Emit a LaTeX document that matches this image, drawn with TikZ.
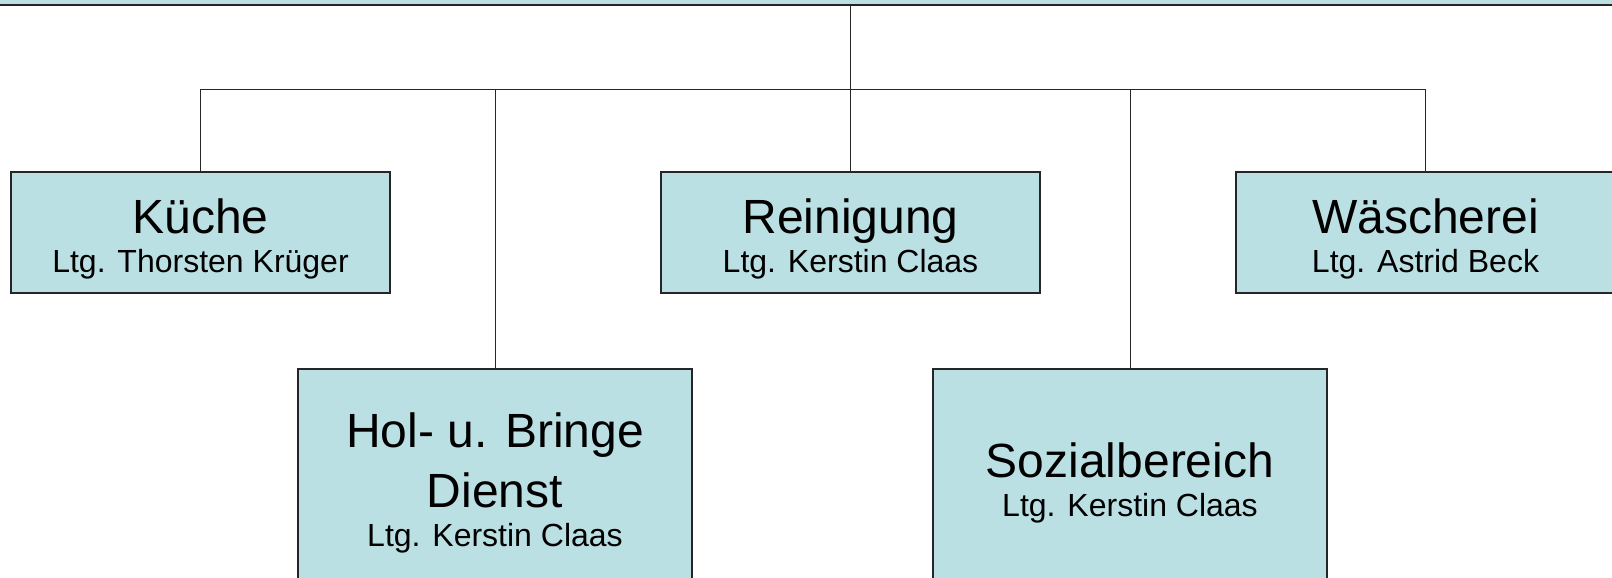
\documentclass[tikz,border=0pt]{standalone}
\usepackage{fontspec}
\setmainfont{Liberation Sans}
\usetikzlibrary{positioning}
\definecolor{orgfill}{RGB}{187,224,227}
\newcommand{\ttl}{\fontsize{24}{29}\selectfont}
\newcommand{\toprow}{\rule{0pt}{23.5pt}}

\begin{document}
\begin{tikzpicture}[x=0.5pt,y=-0.5pt,
      unit/.style={
         rectangle,
         draw=black!85,
         line width=0.75pt,
         fill=orgfill,
         align=center,
         inner sep=0pt,
         minimum width=189.5pt,
         minimum height=60.5pt,
         font=\fontsize{16}{19.5}\selectfont
      },
      big unit/.style={
         unit,
         minimum width=197pt,
         minimum height=114pt
      },
      link/.style={draw=black!85, line width=0.5pt}
    ]
    \useasboundingbox (0,0) rectangle (1612,578);
    % Leitung (oben angeschnitten)
    \node (leitung) [unit, line width=1pt, minimum width=1800pt, minimum height=40pt, anchor=south] at (850,5.5) {};
    % erste Reihe
    \node (kueche) [unit] at (200.5,232.5) {{\ttl\toprow K\"uche}\\Ltg. Thorsten Kr\"uger};
    \node (reinigung) [unit] at (850.5,232.5) {{\ttl\toprow Reinigung}\\Ltg. Kerstin Claas};
    \node (waescherei) [unit] at (1425.5,232.5) {{\ttl\toprow W\"ascherei}\\Ltg. Astrid Beck};
    % zweite Reihe
    \node (holbring) [big unit] at (495,483) {{\ttl Hol- u. Bringe}\\[6.5pt]{\ttl Dienst}\\Ltg. Kerstin Claas};
    \node (sozial) [big unit] at (1130,483) {{\ttl Sozialbereich}\\Ltg. Kerstin Claas};
    % Verbindungen
    \coordinate (bus) at (850,89);
    \draw [link] (leitung.south) -- (bus);
    \draw [link] (bus -| kueche.north) -- (bus -| waescherei.north);
    \foreach \n in {kueche,holbring,reinigung,sozial,waescherei}
       \draw [link] (bus -| \n.north) -- (\n.north);
\end{tikzpicture}
\end{document}
